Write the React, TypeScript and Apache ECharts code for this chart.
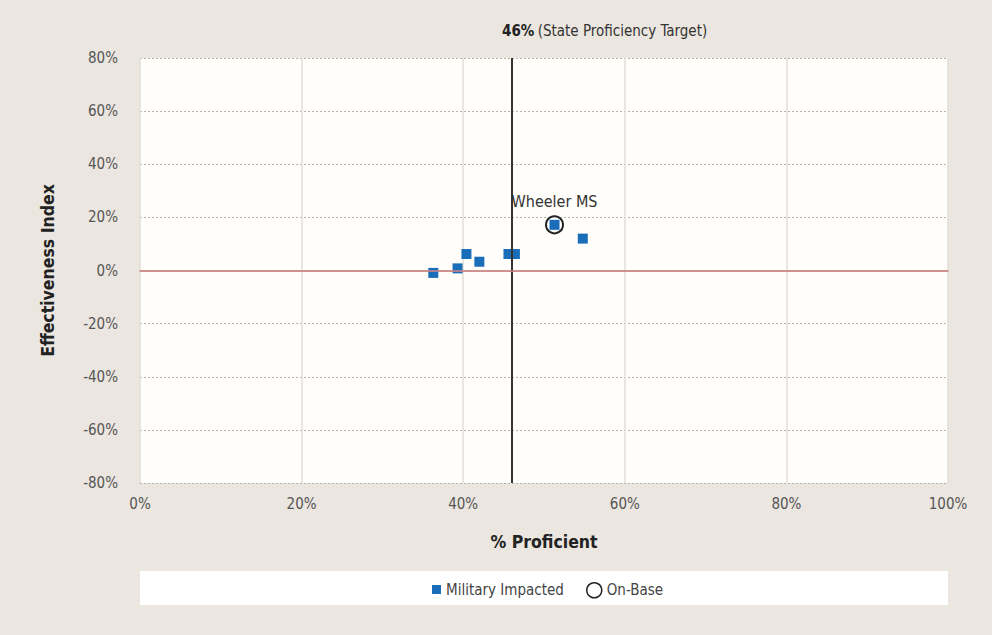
import React, { useEffect, useRef } from "react";
import * as echarts from "echarts";

const militaryX = [36.3, 39.3, 40.4, 42.0, 45.6, 46.4, 51.3, 54.8];
const militaryY = [-0.9, 0.8, 6.2, 3.3, 6.2, 6.2, 17.2, 12.0];
const onBaseX = [51.3];
const onBaseY = [17.2];
const onBaseNames = ["Wheeler MS"];
const targetValue = 46;
const xTicks = [0, 20, 40, 60, 80, 100];
const yTicks = [-80, -60, -40, -20, 0, 20, 40, 60, 80];

const FONT = "'Liberation Sans Narrow', 'DejaVu Sans Condensed', 'Roboto', sans-serif";
const BLUE = "#1a6db8";

export default function App() {
  const ref = useRef<HTMLDivElement>(null);
  useEffect(() => {
    if (!ref.current) return;
    const chart = echarts.init(ref.current, undefined, { renderer: "svg" });
    const militaryData = militaryX.map((x, i) => [x, militaryY[i]]);
    const onBaseData = onBaseX.map((x, i) => ({ value: [x, onBaseY[i]], name: onBaseNames[i] }));
    chart.setOption({
      animation: false,
      backgroundColor: "#ebe6e0",
      textStyle: { fontFamily: FONT },
      graphic: [
        {
          type: "rect",
          shape: { x: 140, y: 571, width: 808, height: 34 },
          style: { fill: "#ffffff" },
          z: -1,
        },
        {
          type: "text",
          x: 502,
          y: 31,
          style: {
            text: "{b|" + targetValue + "%} {n|(State Proficiency Target)}",
            verticalAlign: "middle",
            rich: {
              b: { fontWeight: "bold", fontSize: 15, fill: "#222", fontFamily: FONT },
              n: { fontSize: 15, fill: "#333", fontFamily: FONT },
            },
          },
        },
      ],
      grid: {
        left: 140,
        right: 44,
        top: 58,
        bottom: 152,
        show: true,
        backgroundColor: "#fffefb",
        borderWidth: 0,
      },
      legend: [
        {
          left: 427,
          top: 577,
          itemWidth: 9,
          itemHeight: 9,
          textStyle: { color: "#444", fontSize: 15, fontFamily: FONT },
          data: [{ name: "Military Impacted", icon: "rect", itemStyle: { color: BLUE, opacity: 1 } }],
        },
        {
          left: 581,
          top: 577,
          itemWidth: 15,
          itemHeight: 15,
          textStyle: { color: "#444", fontSize: 15, fontFamily: FONT },
          data: [
            {
              name: "On-Base",
              icon: "circle",
              itemStyle: { color: "#ffffff", borderColor: "#222", borderWidth: 1.5, opacity: 1 },
            },
          ],
        },
      ],
      xAxis: {
        type: "value",
        min: xTicks[0],
        max: xTicks[xTicks.length - 1],
        interval: 20,
        name: "% Proficient",
        nameLocation: "middle",
        nameGap: 50,
        nameTextStyle: { fontWeight: "bold", fontSize: 17.5, color: "#222", fontFamily: FONT },
        axisLine: { show: true, lineStyle: { color: "#b8b3ad", width: 2 } },
        axisTick: { show: false },
        axisLabel: {
          formatter: "{value}%",
          color: "#555",
          fontSize: 15,
          margin: 13,
          fontFamily: FONT,
        },
        splitLine: { show: true, lineStyle: { color: "#e2ded8", width: 1.5 } },
      },
      yAxis: {
        type: "value",
        min: yTicks[0],
        max: yTicks[yTicks.length - 1],
        interval: 20,
        name: "Effectiveness Index",
        nameLocation: "middle",
        nameGap: 83,
        nameMoveOverlap: false,
        nameTextStyle: { fontWeight: "bold", fontSize: 17.5, color: "#222", fontFamily: FONT },
        axisLine: { show: false },
        axisTick: { show: false },
        axisLabel: {
          formatter: "{value}%",
          color: "#555",
          fontSize: 15,
          margin: 22,
          fontFamily: FONT,
        },
        splitLine: { show: true, lineStyle: { color: "#b5b1ab", type: [2, 2], width: 1 } },
      },
      series: [
        {
          name: "On-Base",
          type: "scatter",
          symbol: "circle",
          symbolSize: 17,
          itemStyle: { color: "#ffffff", borderColor: "#222", borderWidth: 2, opacity: 1 },
          data: onBaseData,
          z: 3,
          label: {
            show: true,
            position: "top",
            distance: 6,
            formatter: "{b}",
            color: "#333",
            fontSize: 16,
            fontFamily: FONT,
          },
          markLine: {
            silent: true,
            symbol: "none",
            label: { show: false },
            data: [
              { xAxis: targetValue, lineStyle: { color: "#333", width: 2, type: "solid" } },
              { yAxis: 0, lineStyle: { color: "#d98787", width: 1.5, type: "solid" } },
            ],
          },
        },
        {
          name: "Military Impacted",
          type: "scatter",
          symbol: "rect",
          symbolSize: 10,
          itemStyle: { color: BLUE, opacity: 1 },
          data: militaryData,
          z: 4,
        },
      ],
    });
    return () => chart.dispose();
  }, []);
  return <div ref={ref} style={{ width: 992, height: 635, position: "absolute", left: 0, top: 0 }} />;
}
